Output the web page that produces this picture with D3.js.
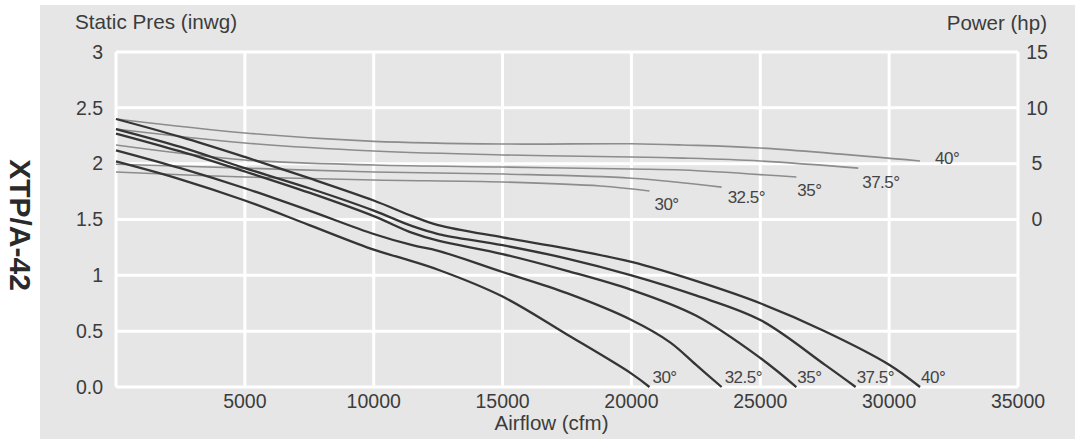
<!DOCTYPE html>
<html>
<head>
<meta charset="utf-8">
<script src="https://cdn.jsdelivr.net/npm/d3@7"></script>
<style>
  html, body { margin: 0; padding: 0; background: #ffffff; }
  svg { display: block; font-family: "Liberation Sans", Arial, Helvetica, sans-serif; }
</style>
</head>
<body>
<svg id="chart" width="1075" height="439"></svg>
<script>
// ---------------- DATA ----------------
const bladeAngles = ["30°", "32.5°", "35°", "37.5°", "40°"];

// Static pressure curves (airflow cfm, static pressure inwg)
const pres30  = [[0,2.02],[2500,1.86],[5000,1.67],[7500,1.45],[10000,1.23],[11000,1.16],[12500,1.05],[15000,0.81],[17500,0.47],[20000,0.12],[20700,0]];
const pres325 = [[0,2.12],[2500,1.96],[5000,1.78],[7500,1.58],[10000,1.37],[11500,1.27],[12500,1.22],[15000,1.03],[17500,0.84],[20000,0.60],[21500,0.40],[22500,0.20],[23500,0]];
const pres35  = [[0,2.27],[2500,2.11],[5000,1.93],[7500,1.74],[10000,1.53],[11500,1.38],[12500,1.31],[15000,1.19],[17500,1.04],[20000,0.87],[22500,0.64],[25000,0.26],[26400,0]];
const pres375 = [[0,2.31],[2500,2.15],[5000,1.96],[7500,1.78],[10000,1.58],[11500,1.44],[12500,1.37],[15000,1.27],[17500,1.15],[20000,1.00],[22500,0.82],[25000,0.60],[27500,0.20],[28700,0]];
const pres40  = [[0,2.40],[2500,2.24],[5000,2.06],[7500,1.87],[10000,1.67],[11500,1.53],[12500,1.45],[15000,1.34],[17500,1.24],[20000,1.12],[22500,0.95],[25000,0.75],[27500,0.50],[30000,0.20],[31200,0]];

// Power curves (airflow cfm, power hp)
const pow30  = [[0,4.25],[5000,3.80],[10000,3.54],[15000,3.36],[18800,3.00],[20700,2.55]];
const pow325 = [[0,4.95],[5000,4.60],[10000,4.25],[15000,4.07],[20000,3.70],[23500,2.90]];
const pow35  = [[0,6.67],[5000,5.33],[10000,4.88],[15000,4.70],[20000,4.52],[22000,4.43],[26400,3.80]];
const pow375 = [[0,8.10],[5000,6.85],[10000,6.13],[15000,5.78],[20000,5.60],[22000,5.50],[25000,5.24],[28800,4.60]];
const pow40  = [[0,9.00],[5000,7.75],[10000,7.00],[15000,6.76],[20000,6.78],[22000,6.67],[25000,6.40],[31200,5.24]];

const pressureSeries = [pres30, pres325, pres35, pres375, pres40];
const powerSeries = [pow30, pow325, pow35, pow375, pow40];

// Axis ticks
const xTicks = [5000, 10000, 15000, 20000, 25000, 30000, 35000];
const yTicks = [0, 0.5, 1, 1.5, 2, 2.5, 3];
const yTickLabels = ["0.0", "0.5", "1", "1.5", "2", "2.5", "3"];
const powerTicks = [0, 5, 10, 15];

// ---------------- LAYOUT ----------------
const svg = d3.select("#chart");
const W = 1075, H = 439;
const plot = { left: 116, right: 1018, top: 52, bottom: 387 };

const x = d3.scaleLinear().domain([0, 35000]).range([plot.left, plot.right]);
const y = d3.scaleLinear().domain([0, 3]).range([plot.bottom, plot.top]);
const yPow = d3.scaleLinear().domain([-15, 15]).range([plot.bottom, plot.top]); // 0 hp aligns with 1.5 inwg

// panel background
svg.append("rect").attr("x", 0).attr("y", 0).attr("width", W).attr("height", H).attr("fill", "#ffffff");
svg.append("rect").attr("x", 40).attr("y", 5).attr("width", W - 40).attr("height", H - 5).attr("fill", "#e6e6e6");

// gridlines
const grid = svg.append("g").attr("stroke", "#ffffff").attr("stroke-width", 3);
grid.selectAll("line.h").data(yTicks).join("line")
  .attr("x1", plot.left).attr("x2", plot.right)
  .attr("y1", d => y(d)).attr("y2", d => y(d));
grid.selectAll("line.v").data([0].concat(xTicks)).join("line")
  .attr("y1", plot.top).attr("y2", plot.bottom)
  .attr("x1", d => x(d)).attr("x2", d => x(d));

const textColor = "#3c3c3c";

// left axis labels
svg.append("g").selectAll("text").data(yTicks).join("text")
  .attr("x", 103).attr("y", d => y(d)).attr("dy", "0.35em")
  .attr("text-anchor", "end").attr("font-size", 19.5).attr("fill", textColor)
  .text((d, i) => yTickLabels[i]);

// right axis labels
svg.append("g").selectAll("text").data(powerTicks).join("text")
  .attr("x", 1037).attr("y", d => yPow(d)).attr("dy", "0.35em")
  .attr("text-anchor", "middle").attr("font-size", 19.5).attr("fill", textColor)
  .text(d => d);

// bottom axis labels
svg.append("g").selectAll("text").data(xTicks).join("text")
  .attr("x", d => x(d)).attr("y", 408)
  .attr("text-anchor", "middle").attr("font-size", 19.5).attr("fill", textColor)
  .text(d => d);

// axis titles
svg.append("text").attr("x", 75).attr("y", 29).attr("font-size", 20.7).attr("fill", textColor)
  .text("Static Pres (inwg)");
svg.append("text").attr("x", 1047).attr("y", 30).attr("text-anchor", "end").attr("font-size", 20.5).attr("fill", textColor)
  .text("Power (hp)");
svg.append("text").attr("x", x(16900)).attr("y", 430).attr("text-anchor", "middle").attr("font-size", 20.5).attr("fill", textColor)
  .text("Airflow (cfm)");

// vertical model label
svg.append("text")
  .attr("transform", "translate(10,225) rotate(90)")
  .attr("text-anchor", "middle").attr("font-size", 30).attr("font-weight", "bold").attr("fill", "#2a2a2a")
  .text("XTP/A-42");

// ---------------- CURVES ----------------
const presLine = d3.line().x(d => x(d[0])).y(d => y(d[1])).curve(d3.curveCatmullRom.alpha(0.5));
const powLine = d3.line().x(d => x(d[0])).y(d => yPow(d[1])).curve(d3.curveCatmullRom.alpha(0.5));

svg.append("g").selectAll("path").data(powerSeries).join("path")
  .attr("d", powLine).attr("fill", "none").attr("stroke", "#8c8c8c").attr("stroke-width", 1.6);

svg.append("g").selectAll("path").data(pressureSeries).join("path")
  .attr("d", presLine).attr("fill", "none").attr("stroke", "#353535").attr("stroke-width", 2.3);

// curve labels
const presLabelOffset = [[3, -4], [3, -4], [1, -4], [1, -4], [1, -4]];
svg.append("g").selectAll("text").data(pressureSeries).join("text")
  .attr("x", (d, i) => x(d[d.length - 1][0]) + presLabelOffset[i][0])
  .attr("y", (d, i) => y(d[d.length - 1][1]) + presLabelOffset[i][1])
  .attr("font-size", 17).attr("fill", "#444").attr("letter-spacing", "-0.5")
  .text((d, i) => bladeAngles[i]);

const powLabelOffset = [[5, 19], [6, 16], [1, 19], [4, 20], [15, 3]];
svg.append("g").selectAll("text").data(powerSeries).join("text")
  .attr("x", (d, i) => x(d[d.length - 1][0]) + powLabelOffset[i][0])
  .attr("y", (d, i) => yPow(d[d.length - 1][1]) + powLabelOffset[i][1])
  .attr("font-size", 17).attr("fill", "#444").attr("letter-spacing", "-0.5")
  .text((d, i) => bladeAngles[i]);
</script>
</body>
</html>
